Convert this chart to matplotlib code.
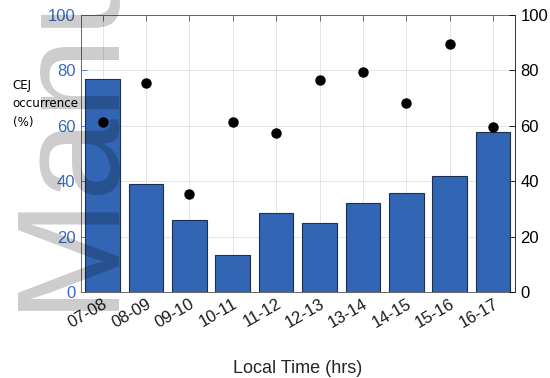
import matplotlib
matplotlib.use("Agg")
import matplotlib.pyplot as plt
import matplotlib.transforms as mtransforms
import numpy as np

# Hourly bins (local time)
hours = ["07-08", "08-09", "09-10", "10-11", "11-12",
         "12-13", "13-14", "14-15", "15-16", "16-17"]
# CEJ occurrence per bin (%), bars on the left axis
cej_occurrence = [77, 39, 26, 13.4, 28.5, 25, 32, 35.7, 42, 57.8]
# Second series (%), dots on the right axis
dot_values = [61.4, 75.5, 35.4, 61.4, 57.4, 76.5, 79.4, 68.2, 89.5, 59.6]

blue = "#3265b4"
tick_blue = "#3a6cc0"
fig = plt.figure(figsize=(5.5, 3.78), dpi=100)
ax = fig.add_axes([0.147, 0.2275, 0.789, 0.7325])

x = np.arange(len(hours))
ax.bar(x, cej_occurrence, width=0.8, color=blue, edgecolor="#1c2f52",
       linewidth=0.8, zorder=2)
ax.set_xlim(-0.5, len(hours) - 0.5)
ax.set_ylim(0, 100)
ax.set_yticks(np.arange(0, 101, 20))
ax.grid(True, color="#e4e4ea", linewidth=0.7, zorder=0)
ax.set_axisbelow(True)

ax.set_xticks(x)
ax.set_xticklabels(hours, rotation=30, ha="right", rotation_mode="anchor",
                   fontsize=12, family="Liberation Sans", color="#1a1a1a")
offset = mtransforms.ScaledTranslation(9 / 100, 0, fig.dpi_scale_trans)
for lab in ax.get_xticklabels():
    lab.set_transform(lab.get_transform() + offset)
ax.tick_params(axis="x", direction="in", length=4, top=True, color="#555555",
               width=0.6, pad=3)
ax.tick_params(axis="y", direction="in", length=4, colors=tick_blue,
               labelsize=12, width=0.6, pad=4)
for lab in ax.get_yticklabels():
    lab.set_family("Liberation Sans")

ax.spines["left"].set_color(tick_blue)
ax.spines["left"].set_linewidth(0.7)
for side in ("top", "bottom", "right"):
    ax.spines[side].set_color("#666666")
    ax.spines[side].set_linewidth(0.7)

ax2 = ax.twinx()
ax2.set_ylim(0, 100)
ax2.set_yticks(np.arange(0, 101, 20))
ax2.plot(x, dot_values, "o", color="black", markersize=6.5, zorder=3)
ax2.tick_params(axis="y", direction="in", length=4, colors="black",
                labelsize=12, width=0.6, pad=4)
for lab in ax2.get_yticklabels():
    lab.set_family("Liberation Sans")
for side in ("top", "bottom", "left"):
    ax2.spines[side].set_visible(False)
ax2.spines["right"].set_color("#333333")
ax2.spines["right"].set_linewidth(0.7)

ax.set_xlabel("Local Time (hrs)", fontsize=13, family="Liberation Sans",
              color="#262626", labelpad=21)

fig.text(0.023, 0.725, "CEJ\noccurrence\n(%)", fontsize=8.6, ha="left",
         va="center", linespacing=1.55, family="DejaVu Sans", color="black")

# Faint vertical watermark across the left edge
fig.text(108 / 550, (378 - 310) / 378, "Manuscript", rotation=90,
         rotation_mode="anchor", ha="left", va="baseline", fontsize=106,
         family="Liberation Sans", color="black", alpha=0.2, zorder=10)

fig.savefig("out.png", dpi=100)
